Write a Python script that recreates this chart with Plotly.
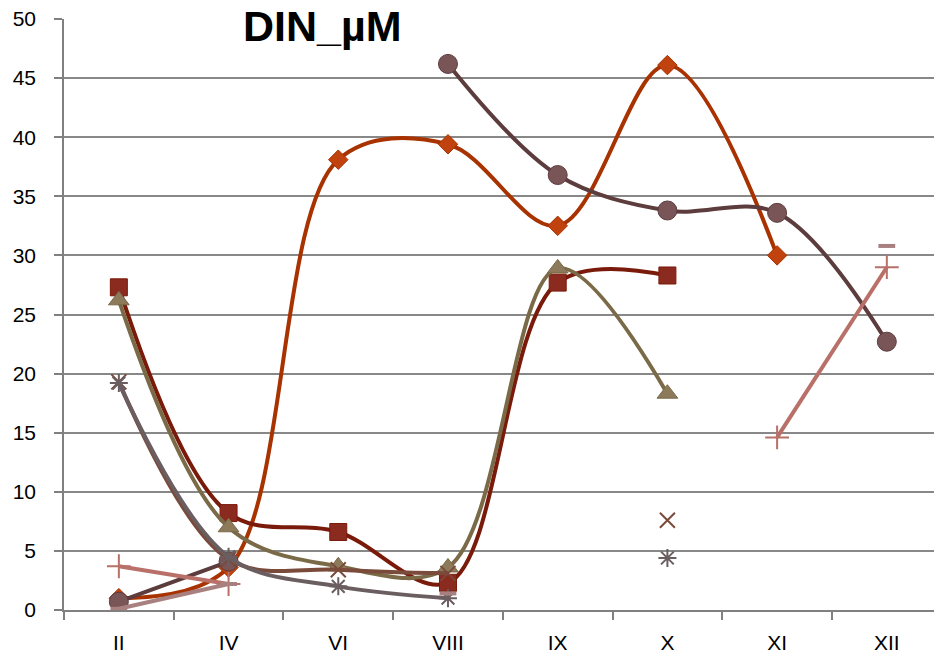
import plotly.graph_objects as go

months = ["II", "IV", "VI", "VIII", "IX", "X", "XI", "XII"]

sq_vals = [27.3, 8.2, 6.6, 2.3, 27.7, 28.3, None, None]
dia_vals = [1.0, 3.6, 38.1, 39.4, 32.5, 46.1, 30.0, None]
circ_vals = [0.7, 4.1, None, 46.2, 36.8, 33.8, 33.6, 22.7]
tri_vals = [26.2, 7.0, 3.7, 3.6, 28.9, 18.3, None, None]
x_vals = [19.3, 4.3, 3.4, 3.1, None, 7.6, None, None]
ast_vals = [19.2, 4.5, 2.0, 1.0, None, 4.4, None, None]
plus_vals = [3.7, 2.2, None, None, None, None, 14.6, 29.0]
dash_vals = [0.1, 2.2, None, 1.4, None, None, None, 30.8]
yticks = list(range(0, 51, 5))

fig = go.Figure()

def add(vals, color, fill, symbol, size, lw=4, mlw=1, shape="spline"):
    fig.add_trace(go.Scatter(
        x=months, y=vals, mode="lines+markers",
        line=dict(color=color, width=lw, shape=shape, smoothing=1.0),
        marker=dict(symbol=symbol, size=size, color=fill,
                    line=dict(color=color, width=mlw)),
        connectgaps=False, showlegend=False, hoverinfo="skip"))

add(dia_vals, "#A83200", "#C0420F", "diamond", 15)
add(sq_vals, "#7A1A0A", "#8B2A1E", "square", 17)
add(tri_vals, "#7A6A48", "#8C7A5A", "triangle-up", 18)
add(circ_vals, "#5C3C3C", "#7A5558", "circle", 19)
add(x_vals, "#7A4A3A", "#7A4A3A", "x-thin", 15, mlw=2)
add(ast_vals, "#6A5E60", "#6A5E60", "asterisk", 15, mlw=2)
add(plus_vals, "#B87068", "#B87068", "cross-thin", 17, mlw=2, shape="linear")
add(dash_vals, "#A88080", "#A07878", "line-ew", 12, mlw=4, shape="linear")

fig.add_annotation(text="<b>DIN_µM</b>", xref="paper", yref="paper",
                   x=0.297, y=1.032, xanchor="center", yanchor="top",
                   showarrow=False, bgcolor="white",
                   font=dict(family="Liberation Sans, Arial", size=43, color="black"))

tickfont = dict(family="Liberation Sans, Arial", size=21, color="black")
fig.update_layout(
    width=934, height=657,
    margin=dict(l=64, r=0, t=19, b=47),
    paper_bgcolor="white", plot_bgcolor="white",
    xaxis=dict(type="category", categoryorder="array", categoryarray=months,
               range=[-0.5, 7.43], showgrid=False,
               showline=True, linecolor="#808080", linewidth=1.5,
               ticks="outside", ticklen=8, tickcolor="#808080", tickwidth=1.5,
               tickson="boundaries", ticklabelstandoff=13,
               tickfont=tickfont),
    yaxis=dict(range=[0, 50], tickvals=yticks, showgrid=True,
               gridcolor="#888888", gridwidth=1.5,
               showline=True, linecolor="#808080", linewidth=1.5,
               ticks="outside", ticklen=8, tickcolor="#808080", tickwidth=1.5,
               zeroline=False, ticklabelstandoff=14,
               tickfont=tickfont),
)

fig.write_html("out.html")
